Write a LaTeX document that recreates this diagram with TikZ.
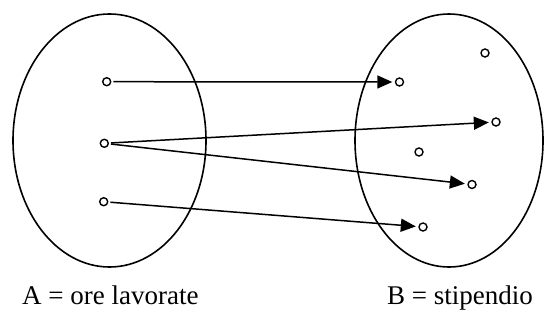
\documentclass[tikz,border=0pt]{standalone}
\usepackage{fontspec}
\setmainfont{Liberation Serif}
\usepackage{tikz}
\usetikzlibrary{arrows.meta}
\tikzset{
  set/.style={draw,line width=1.6pt},
  elem/.style={circle,draw,line width=1.4pt,minimum size=8pt,inner sep=0pt,fill=white},
  ar/.style={-{Triangle[length=15pt,width=13pt]},line width=1.5pt,shorten >=2.5pt,shorten <=2pt},
  lbl/.style={anchor=base west,inner sep=0pt,font=\fontsize{27}{32}\selectfont},
}

\begin{document}
\begin{tikzpicture}[x=1pt,y=-1pt]
  \useasboundingbox (0,0) rectangle (545,324);
  % the two sets
  \draw[set] (109.5,140.5) ellipse [x radius=96.5pt, y radius=126.5pt];
  \draw[set] (449,140.5) ellipse [x radius=94pt, y radius=126.5pt];
  % elements of A
  \node[elem] (a1) at (106.7,81.7) {};
  \node[elem] (a2) at (104.3,143.3) {};
  \node[elem] (a3) at (103.7,201.7) {};
  % elements of B
  \node[elem] (b1) at (399.5,82) {};
  \node[elem] (b2) at (485,53) {};
  \node[elem] (b3) at (496,122) {};
  \node[elem] (b4) at (419,152) {};
  \node[elem] (b5) at (472,184.5) {};
  \node[elem] (b6) at (423,227) {};
  % the map
  \draw[ar] (a1) -- (b1);
  \draw[ar] (a2) -- (b3);
  \draw[ar] (a2) -- (b5);
  \draw[ar] (a3) -- (b6);
  % names
  \node[lbl] (la) at (22,304) {A = ore lavorate};
  \node[lbl] (lb) at (387,304) {B = stipendio};
\end{tikzpicture}
\end{document}
